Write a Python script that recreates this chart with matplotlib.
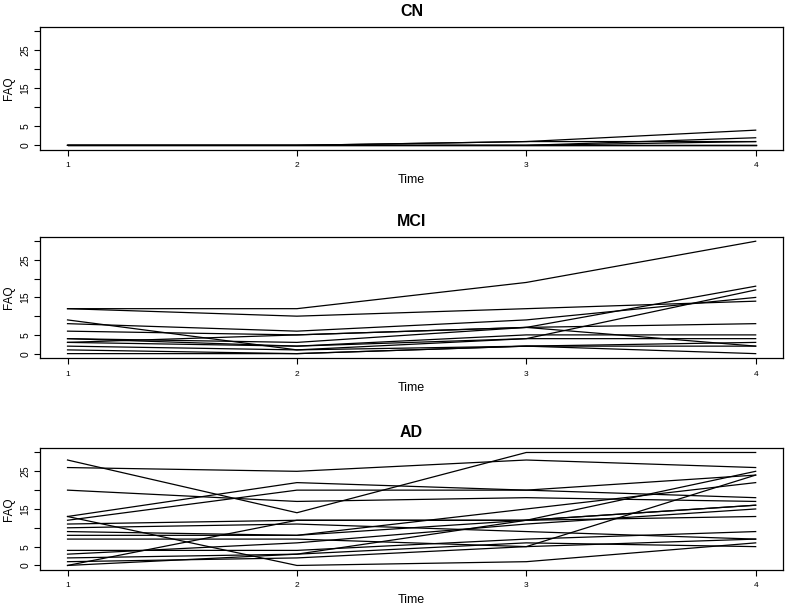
import matplotlib.pyplot as plt
import numpy as np

plt.rcParams['font.family'] = ['Liberation Sans', 'DejaVu Sans']

time = [1, 2, 3, 4]

# FAQ trajectories per subject, one list per diagnostic group
cn = [
    [0, 0, 0, 0],
    [0, 0, 0, 0],
    [0, 0, 0, 0],
    [0, 0, 1, 4],
    [0, 0, 0, 2],
    [0, 0, 0, 1],
    [0, 0, 1, 1],
]

mci = [
    [12, 12, 19, 30],
    [12, 10, 12, 14],
    [8, 6, 9, 15],
    [9, 1, 4, 17],
    [4, 3, 7, 18],
    [6, 5, 7, 8],
    [3, 5, 7, 2],
    [4, 2, 5, 5],
    [3, 2, 4, 4],
    [2, 1, 2, 3],
    [1, 0, 2, 2],
    [0, 0, 2, 0],
]

ad = [
    [28, 14, 30, 30],
    [26, 25, 28, 26],
    [20, 17, 18, 17],
    [13, 22, 20, 18],
    [12, 20, 20, 24],
    [13, 0, 1, 6],
    [0, 12, 12, 25],
    [11, 12, 12, 13],
    [10, 11, 9, 7],
    [9, 8, 15, 22],
    [8, 8, 12, 16],
    [7, 7, 5, 24],
    [4, 4, 7, 9],
    [3, 6, 11, 15],
    [2, 3, 6, 5],
    [1, 2, 5, 7],
    [0, 3, 12, 16],
]

groups = ['CN', 'MCI', 'AD']
group_data = [cn, mci, ad]

y_ticks = [0, 5, 10, 15, 20, 25, 30]
y_tick_labels = ['0', '5', '', '15', '', '25', '']

fig = plt.figure(figsize=(8, 6.07), dpi=100)

# axes boxes in figure coordinates (left, bottom, width, height)
boxes = [
    (0.05, 0.753, 0.929, 0.203),
    (0.05, 0.410, 0.929, 0.200),
    (0.05, 0.061, 0.929, 0.201),
]

for name, data, box in zip(groups, group_data, boxes):
    ax = fig.add_axes(box)
    for subj in data:
        ax.plot(time, subj, color='black', lw=0.9)

    ax.set_xlim(1 - 0.12, 4 + 0.12)
    ax.set_ylim(-1.2, 31.2)
    ax.set_xticks(time)
    ax.set_xticklabels([str(t) for t in time], fontsize=6)
    ax.set_yticks(y_ticks)
    ax.set_yticklabels(y_tick_labels, fontsize=7.5, rotation=90, va='center')
    ax.tick_params(direction='out', length=4, width=0.8, pad=3)
    ax.tick_params(axis='x', pad=5)
    for sp in ax.spines.values():
        sp.set_linewidth(0.9)

    ax.set_title(name, fontsize=11.5, fontweight='bold', pad=8)
    ax.set_xlabel('Time', fontsize=9, labelpad=3)
    ax.set_ylabel('FAQ', fontsize=8.5, labelpad=4)

fig.savefig('out.png', dpi=100)
